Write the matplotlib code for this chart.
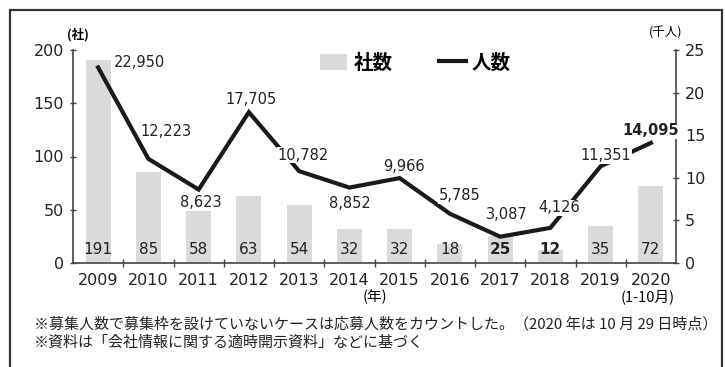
import matplotlib
matplotlib.use("Agg")
import matplotlib.pyplot as plt
from matplotlib.patches import Patch, Rectangle
from matplotlib.lines import Line2D
import numpy as np

plt.rcParams['font.family'] = ['DejaVu Sans', 'Noto Sans CJK JP']

years = ['2009', '2010', '2011', '2012', '2013', '2014', '2015', '2016', '2017', '2018', '2019', '2020']
companies = [191, 85, 58, 63, 54, 32, 32, 18, 25, 12, 35, 72]
people = [22950, 12223, 8623, 17705, 10782, 8852, 9966, 5785, 3087, 4126, 11351, 14095]
bold_company = [False, False, False, False, False, False, False, False, True, True, False, False]

# label offsets (pixels) for line value labels
label_offsets = [(41, 5), (18, 27), (2, -13), (2, 13), (4, 16), (1, -16),
                 (4, 12), (10, 18), (7, 22), (9, 20), (5, 11), (0, 12)]

JP = ['Noto Sans CJK JP', 'DejaVu Sans']

fig = plt.figure(figsize=(7.25, 3.67), dpi=100)
W, H = 725, 367

def fx(px):
    return px / W

def fy(py):
    return 1 - py / H

# outer frame
fig.patches.append(Rectangle((fx(10), fy(370)), fx(722) - fx(10), fy(10) - fy(370),
                             transform=fig.transFigure, fill=False, lw=1.6,
                             edgecolor='#333333', clip_on=False))

ax = fig.add_axes([fx(73), fy(263), fx(676) - fx(73), fy(50) - fy(263)])
x = np.arange(len(years))

ax.bar(x, companies, width=0.5, color='#dadada', zorder=1)
ax.set_xlim(-0.5, len(years) - 0.5)
ax.set_ylim(0, 200)
ax.set_yticks([0, 50, 100, 150, 200])
ax.tick_params(axis='y', direction='inout', length=5, width=1, labelsize=11.5,
               color='#444444', labelcolor='#222222', pad=4)
for s in ['top', 'right']:
    ax.spines[s].set_visible(False)
ax.spines['left'].set_color('#444444')
ax.spines['bottom'].set_color('#444444')
ax.spines['left'].set_linewidth(1.2)
ax.spines['bottom'].set_linewidth(1.2)

ax.set_xticks(x)
ax.set_xticklabels(years)
ax.tick_params(axis='x', length=0, labelsize=11.5, pad=7, labelcolor='#222222')
ax.set_xticks(np.arange(0.5, len(years) - 1, 1.0), minor=True)
ax.tick_params(axis='x', which='minor', direction='inout', length=6, width=1, color='#444444')

for xi, v, b in zip(x, companies, bold_company):
    ax.text(xi, 13, str(v), ha='center', va='center', fontsize=11,
            fontweight='bold' if b else 'normal', color='#222222', zorder=5)

ax2 = ax.twinx()
ax2.set_ylim(0, 25)
ax2.set_yticks([0, 5, 10, 15, 20, 25])
for s in ['top', 'left', 'bottom']:
    ax2.spines[s].set_visible(False)
ax2.spines['right'].set_color('#444444')
ax2.spines['right'].set_linewidth(1.2)
ax2.tick_params(axis='y', direction='inout', length=5, width=1, labelsize=11.5,
                color='#444444', labelcolor='#222222', pad=4)

people_k = [p / 1000 for p in people]
ax2.plot(x, people_k, color='#1a1a1a', lw=3.0, solid_joinstyle='miter', zorder=3)

for i, (xi, v) in enumerate(zip(x, people_k)):
    dx, dy = label_offsets[i]
    ax2.annotate(f"{people[i]:,}", (xi, v), xytext=(dx, dy), textcoords='offset pixels',
                 ha='center', va='center', fontsize=10.5,
                 fontweight='bold' if i == len(x) - 1 else 'normal', color='#222222',
                 bbox=dict(boxstyle='square,pad=0.05', fc='white', ec='none'), zorder=6)

# legend
handles = [Patch(facecolor='#dadada', edgecolor='none', label='社数'),
           Line2D([0], [0], color='#1a1a1a', lw=3.0, label='人数')]
leg = ax2.legend(handles=handles, loc='center left', bbox_to_anchor=(0.41, 0.94),
                 ncol=2, frameon=False, handlelength=1.4, handleheight=0.9,
                 handletextpad=0.3, columnspacing=2.4, borderpad=0, borderaxespad=0,
                 prop={'family': JP, 'size': 14, 'weight': 'bold'})

# unit labels
fig.text(fx(78), fy(35), '(社)', ha='center', va='center', fontsize=9, family=JP, weight='bold')
fig.text(fx(666), fy(33), '(千人)', ha='center', va='center', fontsize=9, family=JP)
fig.text(fx(375), fy(297), '(年)', ha='center', va='center', fontsize=10.5, family=JP)
fig.text(fx(648), fy(297), '(1-10月)', ha='center', va='center', fontsize=10.5, family=JP)

fig.text(fx(34), fy(324), '※募集人数で募集枠を設けていないケースは応募人数をカウントした。（2020 年は 10 月 29 日時点）',
         ha='left', va='center', fontsize=10.8, family=JP, color='#222222')
fig.text(fx(34), fy(343), '※資料は「会社情報に関する適時開示資料」などに基づく',
         ha='left', va='center', fontsize=10.8, family=JP, color='#222222')

fig.savefig('out.png', dpi=100)
